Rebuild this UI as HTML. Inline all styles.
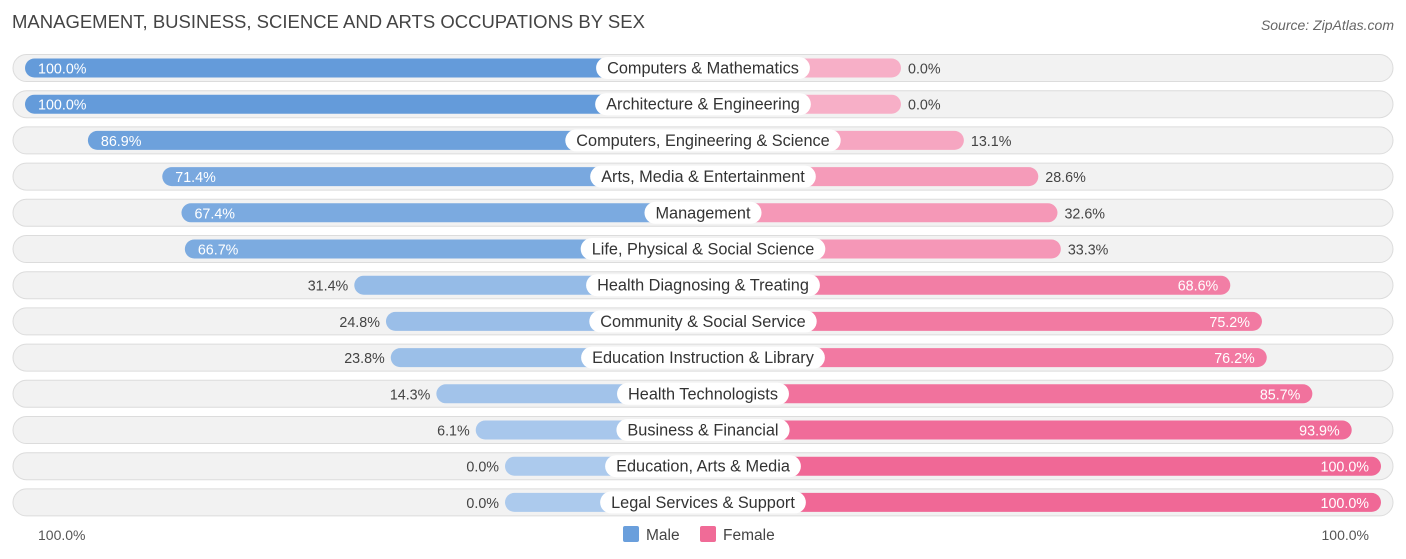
<!DOCTYPE html>
<html><head><meta charset="utf-8"><style>
body{margin:0;background:#fff;font-family:"Liberation Sans",sans-serif;}
svg{display:block}
</style></head><body>
<svg id="c" width="1406" height="559">
<text x="12" y="28" font-size="18.5" fill="#444">MANAGEMENT, BUSINESS, SCIENCE AND ARTS OCCUPATIONS BY SEX</text>
<text x="1394" y="30" font-size="14" fill="#666" font-style="italic" text-anchor="end">Source: ZipAtlas.com</text>
<text x="38" y="540" font-size="14" fill="#555">100.0%</text>
<text x="1369" y="540" font-size="14" fill="#555" text-anchor="end">100.0%</text>
<rect x="623" y="526" width="16" height="16" rx="2" fill="#6a9fdc"/>
<text x="646" y="540" font-size="15.5" fill="#444">Male</text>
<rect x="700" y="526" width="16" height="16" rx="2" fill="#f06b97"/>
<text x="723" y="540" font-size="15.5" fill="#444">Female</text>
<g id="rows"></g>
</svg>
<script>
const categories=["Computers & Mathematics","Architecture & Engineering","Computers, Engineering & Science","Arts, Media & Entertainment","Management","Life, Physical & Social Science","Health Diagnosing & Treating","Community & Social Service","Education Instruction & Library","Health Technologists","Business & Financial","Education, Arts & Media","Legal Services & Support"];
const maleValues=[100,100,86.9,71.4,67.4,66.7,31.4,24.8,23.8,14.3,6.1,0,0];
const femaleValues=[0,0,13.1,28.6,32.6,33.3,68.6,75.2,76.2,85.7,93.9,100,100];
const NS="http://www.w3.org/2000/svg";
const g=document.getElementById('rows');
const cx=703,base=198,scale=4.8,y0=68,step=36.2;
function len(v){return base+v*scale;}
function mix(a,b,t){return 'rgb('+a.map((x,i)=>Math.round(x+(b[i]-x)*t)).join(',')+')';}
function el(tag,attrs){const e=document.createElementNS(NS,tag);for(const k in attrs)e.setAttribute(k,attrs[k]);return e;}
categories.forEach((cat,i)=>{
  const y=y0+i*step;
  const bg=el('rect',{x:13,y:y-13.5,width:1380,height:27,rx:13.5,fill:'#f2f2f2',stroke:'#dcdcdc','stroke-width':1});
  
  
  g.appendChild(bg);
  const m=maleValues[i],f=femaleValues[i];
  const ml=len(m);
  const mb=el('rect',{x:cx-ml,y:y-9.5,width:ml,height:19,rx:9.5,fill:mix([172,202,237],[100,155,218],m/100)});
  
  
  g.appendChild(mb);
  const fl=len(f);
  const fb=el('rect',{x:cx,y:y-9.5,width:fl,height:19,rx:9.5,fill:mix([247,175,199],[240,104,150],f/100)});
  
  
  g.appendChild(fb);
  const t=el('text',{x:cx,y:y+5.5,'font-size':16.3,fill:'#333','text-anchor':'middle'});
  t.textContent=cat;
  g.appendChild(t);
  const w=t.getComputedTextLength()+22;
  const lb=el('rect',{x:cx-w/2,y:y-11,width:w,height:22,rx:11,fill:'#fff'});
  
  
  g.insertBefore(lb,t);
  
  
  const mIn=m>50;
  const mt=el('text',{x:mIn?cx-ml+13:cx-ml-6,y:y+5.5,'font-size':14.3,fill:mIn?'#fff':'#444','text-anchor':mIn?'start':'end'});
  mt.textContent=m.toFixed(1)+'%';
  
  
  g.appendChild(mt);
  const fIn=f>50;
  const ft=el('text',{x:fIn?cx+fl-12:cx+fl+7,y:y+5.5,'font-size':14.3,fill:fIn?'#fff':'#444','text-anchor':fIn?'end':'start'});
  ft.textContent=f.toFixed(1)+'%';
  
  
  g.appendChild(ft);
});
</script>
</body></html>
